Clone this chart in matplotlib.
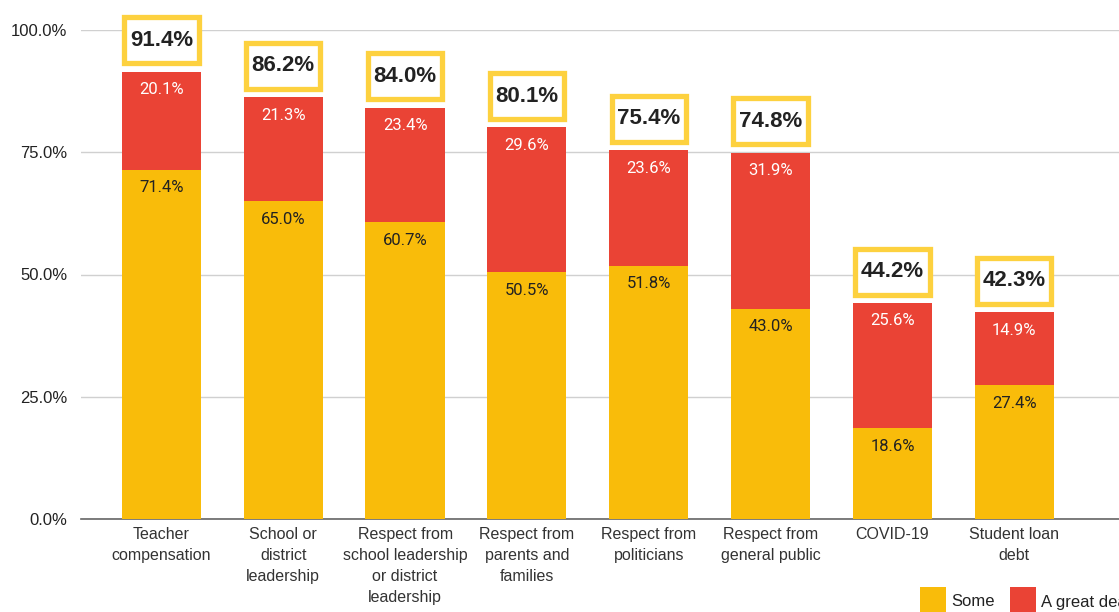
import matplotlib
matplotlib.use("Agg")
import matplotlib.pyplot as plt
from matplotlib.patches import Rectangle

categories = ["Teacher\ncompensation", "School or\ndistrict\nleadership",
              "Respect from\nschool leadership\nor district\nleadership",
              "Respect from\nparents and\nfamilies", "Respect from\npoliticians",
              "Respect from\ngeneral public", "COVID-19", "Student loan\ndebt"]
some = [71.4, 65.0, 60.7, 50.5, 51.8, 43.0, 18.6, 27.4]
great_deal = [20.1, 21.3, 23.4, 29.6, 23.6, 31.9, 25.6, 14.9]
totals = [91.4, 86.2, 84.0, 80.1, 75.4, 74.8, 44.2, 42.3]
yticks = [0, 25, 50, 75, 100]
series_names = ["Some", "A great deal"]

YELLOW = "#F9BC0A"
RED = "#EA4335"
BOX = "#FDD13F"
TXT = "#222222"

plt.rcParams['font.family'] = ['Liberation Sans', 'DejaVu Sans']

fig = plt.figure(figsize=(11.19, 6.12), dpi=100)
ax = fig.add_axes([81/1119, 1-519/612, 1-81/1119, (519-30)/612])

x = list(range(len(categories)))
w = 0.65
ax.bar(x, some, width=w, color=YELLOW, zorder=3)
ax.bar(x, great_deal, bottom=some, width=w, color=RED, zorder=3)

ax.set_ylim(0, 100)
ax.set_xlim(-0.66, 7.86)
ax.set_yticks(yticks)
ax.set_yticklabels([f"{v:.1f}%" for v in yticks], fontsize=12, color=TXT)
ax.yaxis.grid(True, color="#d0d0d0", linewidth=1, zorder=0)
ax.tick_params(axis='y', length=0, pad=10)
ax.tick_params(axis='x', length=0, pad=6)
ax.set_xticks(x)
ax.set_xticklabels(categories, fontsize=11.5, color="#333333", linespacing=1.5, va='top')
for s in ["top", "right", "left"]:
    ax.spines[s].set_visible(False)
ax.spines["bottom"].set_color("#666666")
ax.spines["bottom"].set_linewidth(1.2)
ax.spines["bottom"].set_zorder(2)

val_font = dict(family=['Roboto', 'DejaVu Sans'])
total_font = dict(family=['Liberation Sans', 'DejaVu Sans'], weight='bold')

for i in x:
    top = some[i] + great_deal[i]
    ax.annotate(f"{great_deal[i]:.1f}%", (i, top), xytext=(0, -13), textcoords="offset points",
                ha='center', va='center', color='white', fontsize=12, zorder=5, **val_font)
    ax.annotate(f"{some[i]:.1f}%", (i, some[i]), xytext=(0, -13), textcoords="offset points",
                ha='center', va='center', color=TXT, fontsize=12, zorder=5, **val_font)
    cy = top + 6.4
    bh = 9.4
    ax.add_patch(Rectangle((i - w/2 + 0.02, cy - bh/2), w - 0.04, bh, facecolor='white',
                           edgecolor=BOX, linewidth=3.8, zorder=6, clip_on=False))
    ax.text(i, cy, f"{totals[i]:.1f}%", ha='center', va='center', fontsize=16, color=TXT,
            zorder=7, clip_on=False, **total_font)

# legend
fig.patches.append(Rectangle((920/1119, 0), 26/1119, 25/612, transform=fig.transFigure,
                             facecolor=YELLOW, edgecolor='none'))
fig.text(951/1119, 10/612, series_names[0], fontsize=12, color=TXT, va='center', ha='left')
fig.patches.append(Rectangle((1010/1119, 0), 26/1119, 25/612, transform=fig.transFigure,
                             facecolor=RED, edgecolor='none'))
fig.text(1041/1119, 10/612, series_names[1], fontsize=12, color=TXT, va='center', ha='left')

fig.savefig("out.png", dpi=100)
